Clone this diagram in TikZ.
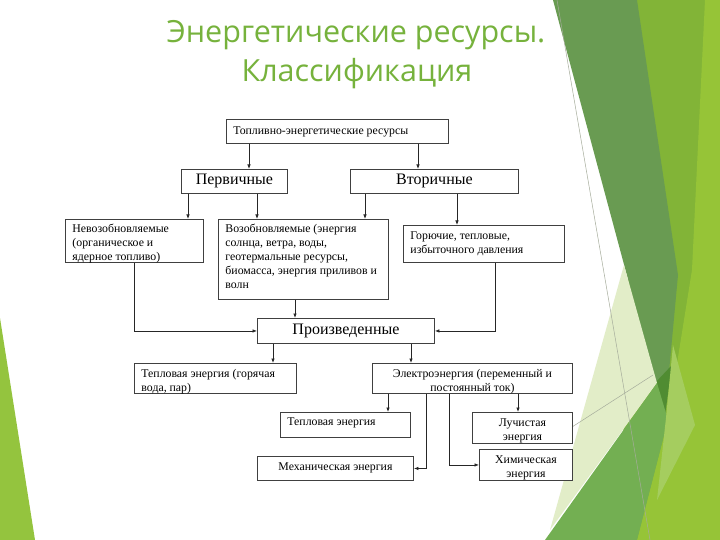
\documentclass[tikz,border=0pt]{standalone}
\usepackage{fontspec}
\setmainfont{Liberation Serif}
\newfontfamily\titlefont{Open Sans}
\usetikzlibrary{arrows.meta}
\definecolor{titlegreen}{RGB}{118,178,60}
\definecolor{gLeft}{RGB}{148,196,62}
\definecolor{gMid}{RGB}{130,180,55}
\definecolor{gBright}{RGB}{150,196,55}
\definecolor{gDark}{RGB}{105,155,82}
\definecolor{gDarker}{RGB}{80,140,50}
\definecolor{gPale}{RGB}{226,237,200}
\definecolor{gMed}{RGB}{115,175,82}
\definecolor{gStripe}{RGB}{165,205,95}
\definecolor{thinline}{RGB}{165,172,155}
\newcommand\lbx[4][5.5]{\begin{minipage}[c][#3pt][t]{#2pt}\vspace*{#1pt}\raggedright\leftskip=7pt\relax #4\end{minipage}}
\newcommand\cbx[4][5.5]{\begin{minipage}[c][#3pt][t]{#2pt}\vspace*{#1pt}\centering #4\end{minipage}}
\tikzset{
  box/.style={draw=black!75, line width=0.9pt, inner sep=0pt, anchor=north west, fill=white},
  small/.style={font=\fontsize{11.8}{14}\selectfont},
  big/.style={font=\fontsize{16}{18}\selectfont},
  arr/.style={-{Latex[length=4.5pt,width=3.5pt]}, line width=0.7pt, draw=black!85},
  ttl/.style={font=\titlefont\fontsize{30.5}{37}\selectfont, text=titlegreen, anchor=base, inner sep=0pt},
}
\begin{document}
\begin{tikzpicture}[x=1pt,y=-1pt]
\useasboundingbox (0,0) rectangle (720,540);
% background
\fill[white] (0,0) rectangle (720,540);
\fill[gMid] (637,0) -- (720,0) -- (720,540) -- (620,540) -- cycle;
\fill[gBright] (705,0) -- (720,0) -- (720,540) -- (637,540) -- (668,420) -- (692,270) -- cycle;
\fill[gDark] (553,0) -- (637,0) -- (678,275) -- (665,415) -- (655,380) -- cycle;
\fill[gDarker] (655,383) -- (672,365) -- (665,415) -- cycle;
\fill[gPale] (550,530) -- (624,265) -- (657,383) -- cycle;
\fill[gMed] (545,540) -- (657,383) -- (668,420) -- (637,540) -- cycle;
\fill[gStripe] (673,345) -- (695,425) -- (657,500) -- (666,418) -- cycle;
\draw[thinline, line width=0.5pt] (557,0) -- (650,540);
\draw[thinline, line width=0.5pt] (572,427) -- (653,375);
\fill[gLeft] (0,318) -- (0,540) -- (35,540) -- cycle;
% title
\node[ttl] (t1) at (356,43) {Энергетические ресурсы.};
\node[ttl] (t2) at (357,82) {Классификация};
% boxes
\node[box,small] (top) at (226,119) {\lbx[7]{222}{24}{Топливно-энергетические ресурсы}};
\node[box,big,minimum width=106pt,minimum height=24pt] (perv) at (181,169) {Первичные};
\node[box,big,minimum width=168pt,minimum height=24pt] (vtor) at (350,169) {Вторичные};
\node[box,small] (nevoz) at (65,219) {\lbx[5]{138}{43}{Невозобновляемые\\(органическое и\\ядерное топливо)}};
\node[box,small] (voz) at (218,219) {\lbx[5]{170}{80}{Возобновляемые (энергия\\солнца, ветра, воды,\\геотермальные ресурсы,\\биомасса, энергия приливов и\\волн}};
\node[box,small] (gor) at (403,225) {\lbx[6]{161}{37}{Горючие, тепловые,\\избыточного давления}};
\node[box,big,minimum width=177pt,minimum height=25pt] (proizv) at (257,318) {Произведенные};
\node[box,small] (tepl) at (134,363) {\lbx[5.5]{162}{30}{Тепловая энергия (горячая\\вода, пар)}};
\node[box,small] (elek) at (372,363) {\cbx[5.5]{200}{30}{Электроэнергия (переменный и\\постоянный ток)}};
\node[box,small] (tepl2) at (280,412) {\lbx[5]{130}{25}{Тепловая энергия}};
\node[box,small] (luch) at (472,412) {\cbx[6]{100}{31}{Лучистая\\энергия}};
\node[box,small] (mech) at (257,456) {\cbx[6]{156}{24}{Механическая энергия}};
\node[box,small] (chem) at (479,449) {\cbx[6]{93}{31}{Химическая\\энергия}};
% connectors
\draw[arr] (249,0 |- top.south) -- (249,0 |- perv.north);
\draw[arr] (418,0 |- top.south) -- (418,0 |- vtor.north);
\draw[arr] (188,0 |- perv.south) -- (188,0 |- nevoz.north);
\draw[arr] (257,0 |- perv.south) -- (257,0 |- voz.north);
\draw[arr] (365,0 |- vtor.south) -- (365,0 |- voz.north);
\draw[arr] (457,0 |- vtor.south) -- (457,0 |- gor.north);
\draw[arr] (134,0 |- nevoz.south) |- (proizv.west);
\draw[arr] (295,0 |- voz.south) -- (295,0 |- proizv.north);
\draw[arr] (495,0 |- gor.south) |- (proizv.east);
\draw[arr] (273,0 |- proizv.south) -- (273,0 |- tepl.north);
\draw[arr] (411,0 |- proizv.south) -- (411,0 |- elek.north);
\draw[arr] (388,0 |- elek.south) -- (388,0 |- tepl2.north);
\draw[arr] (426,0 |- elek.south) |- (mech.east);
\draw[arr] (449,0 |- elek.south) |- (chem.west);
\draw[arr] (518,0 |- elek.south) -- (518,0 |- luch.north);
\end{tikzpicture}
\end{document}
